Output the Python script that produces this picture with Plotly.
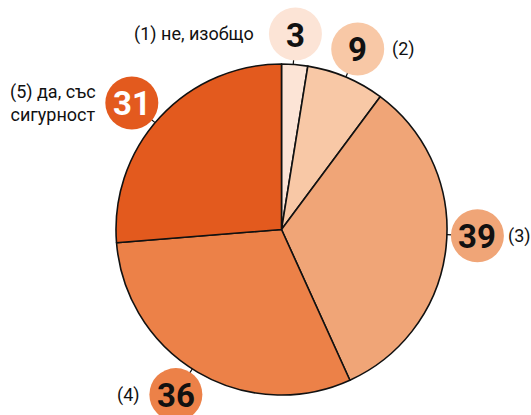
import math
import plotly.graph_objects as go

# ---- data ----
categories = ["(1) не, изобщо", "(2)", "(3)", "(4)", "(5) да, със<br>сигурност"]
values = [3, 9, 39, 36, 31]
colors = ["#FCE4D6", "#F8C8A6", "#F0A577", "#EC8148", "#E35A1E"]
number_colors = ["#111111", "#111111", "#111111", "#111111", "#ffffff"]

# ---- layout / styling ----
W, H = 531, 415
cx, cy, R = 281.5, 229.5, 165.5
angle_nudge = [-0.5, 0, -4.3, 2.1, -2.5]
label_dist = [196, 196, 196, 196, 196]
label_side = ["left", "right", "right", "left", "left"]
label_gap = [13, 6, 2, 7, 7]
bubble_r = 26.5
tick_len = 5

fig = go.Figure()

fig.add_trace(go.Pie(
    values=values,
    labels=categories,
    sort=False,
    direction="clockwise",
    rotation=0,
    marker=dict(colors=colors, line=dict(color="#111111", width=1.6)),
    textinfo="none",
    hoverinfo="label+value",
    showlegend=False,
    domain=dict(x=[(cx - R) / W, (cx + R) / W],
                y=[(H - cy - R) / H, (H - cy + R) / H]),
))

# invisible trace to establish pixel axes
fig.add_trace(go.Scatter(x=[0, W], y=[0, H], mode="markers",
                         marker=dict(opacity=0), hoverinfo="skip", showlegend=False))

total = sum(values)
cum = 0
shapes = []
annotations = []
for i, v in enumerate(values):
    mid = (cum + v / 2) / total * 360 + angle_nudge[i]
    cum += v
    a = math.radians(mid)
    s, c = math.sin(a), math.cos(a)
    # tick
    shapes.append(dict(type="line", xref="x", yref="y", layer="above",
                       x0=cx + R * s, y0=cy - R * c,
                       x1=cx + (R + tick_len) * s, y1=cy - (R + tick_len) * c,
                       line=dict(color="#111111", width=1.2)))
    bx, by = cx + label_dist[i] * s, cy - label_dist[i] * c
    shapes.append(dict(type="circle", xref="x", yref="y", layer="above",
                       x0=bx - bubble_r, x1=bx + bubble_r,
                       y0=by - bubble_r, y1=by + bubble_r,
                       fillcolor=colors[i], line=dict(width=0)))
    annotations.append(dict(x=bx, y=by, xref="x", yref="y", text="<b>%d</b>" % v,
                            showarrow=False, yshift=-1,
                            font=dict(family="Roboto", size=33, color=number_colors[i])))
    if label_side[i] == "left":
        lx, anchor = bx - bubble_r - label_gap[i], "right"
    else:
        lx, anchor = bx + bubble_r + label_gap[i], "left"
    annotations.append(dict(x=lx, y=by, xref="x", yref="y", text=categories[i],
                            showarrow=False, xanchor=anchor, align="center",
                            font=dict(family="Roboto", size=18, color="#111111")))

fig.update_layout(
    width=W, height=H,
    margin=dict(l=0, r=0, t=0, b=0),
    paper_bgcolor="white", plot_bgcolor="white",
    xaxis=dict(range=[0, W], visible=False, fixedrange=True),
    yaxis=dict(range=[H, 0], visible=False, fixedrange=True),
    shapes=shapes,
    annotations=annotations,
)

fig.write_html("out.html", config={"displayModeBar": False},
               post_script="document.body.style.margin='0';document.body.style.overflow='hidden';")
